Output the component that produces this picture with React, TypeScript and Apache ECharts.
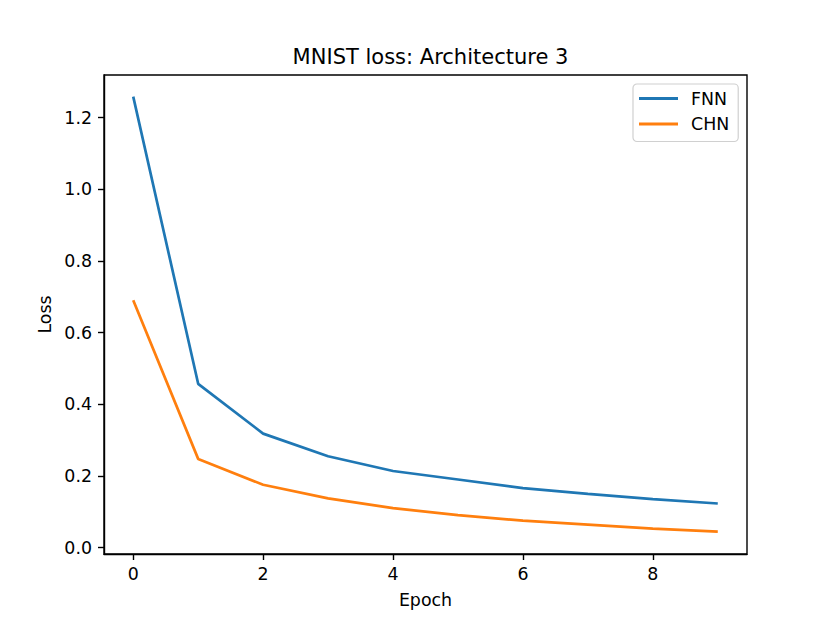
import React, { useEffect, useRef } from "react";
import * as echarts from "echarts";

const epochs = [0, 1, 2, 3, 4, 5, 6, 7, 8, 9];
const fnnLoss = [1.2586, 0.457, 0.318, 0.2547, 0.2136, 0.19, 0.166, 0.15, 0.135, 0.123];
const chnLoss = [0.6905, 0.2475, 0.1752, 0.1371, 0.11, 0.0907, 0.075, 0.064, 0.053, 0.0445];
const xTicks = [0, 2, 4, 6, 8];
const yTicks = [0, 0.2, 0.4, 0.6, 0.8, 1.0, 1.2];

const FONT = "DejaVu Sans";

export default function App() {
  const ref = useRef<HTMLDivElement>(null);
  useEffect(() => {
    if (!ref.current) return;
    const chart = echarts.init(ref.current, null, { renderer: "svg" });
    const axisCommon = {
      axisLine: { show: true, onZero: false, lineStyle: { color: "#000", width: 1.4 } },
      splitLine: { show: false },
      axisTick: { show: true, inside: false, length: 6, lineStyle: { color: "#000", width: 1.4 } },
    };
    chart.setOption({
      animation: false,
      backgroundColor: "#fff",
      title: {
        text: "MNIST loss: Architecture 3",
        left: 425.5,
        textAlign: "center",
        top: 41,
        textStyle: { fontFamily: FONT, fontSize: 21, fontWeight: "normal", color: "#000" },
      },
      legend: {
        orient: "vertical",
        left: 633,
        top: 84,
        padding: [6, 9, 9, 6],
        itemWidth: 39,
        itemHeight: 3,
        itemGap: 8.5,
        icon: "rect",
        borderColor: "#d0d0d0",
        borderWidth: 1.2,
        borderRadius: 4,
        backgroundColor: "#fff",
        textStyle: { fontFamily: FONT, fontSize: 17.4, color: "#000", padding: [0, 0, 0, 8] },
        data: ["FNN", "CHN"],
      },
      grid: {
        left: 104,
        right: 83,
        top: 75,
        bottom: 69,
        show: true,
        borderColor: "#000",
        borderWidth: 1.4,
        containLabel: false,
      },
      xAxis: {
        type: "value",
        min: -0.45,
        max: 9.45,
        ...axisCommon,
        axisTick: { ...axisCommon.axisTick, customValues: xTicks },
        axisLabel: {
          customValues: xTicks,
          margin: 11,
          fontFamily: FONT,
          fontSize: 17.4,
          color: "#000",
        },
        name: "Epoch",
        nameLocation: "middle",
        nameGap: 37,
        nameTextStyle: { fontFamily: FONT, fontSize: 17.4, color: "#000", verticalAlign: "top" },
      },
      yAxis: {
        type: "value",
        min: -0.018,
        max: 1.319,
        ...axisCommon,
        axisTick: { ...axisCommon.axisTick, customValues: yTicks },
        axisLabel: {
          customValues: yTicks,
          margin: 12,
          fontFamily: FONT,
          fontSize: 17.4,
          color: "#000",
          formatter: (v: number) => v.toFixed(1),
        },
        name: "Loss",
        nameLocation: "middle",
        nameGap: 50,
        nameTextStyle: { fontFamily: FONT, fontSize: 17.4, color: "#000" },
      },
      series: [
        {
          name: "FNN",
          type: "line",
          data: epochs.map((e, i) => [e, fnnLoss[i]]),
          showSymbol: false,
          symbol: "none",
          lineStyle: { color: "#1f77b4", width: 2.7 },
          itemStyle: { color: "#1f77b4" },
        },
        {
          name: "CHN",
          type: "line",
          data: epochs.map((e, i) => [e, chnLoss[i]]),
          showSymbol: false,
          symbol: "none",
          lineStyle: { color: "#ff7f0e", width: 2.7 },
          itemStyle: { color: "#ff7f0e" },
        },
      ],
    });
    return () => chart.dispose();
  }, []);
  return (
    <div
      ref={ref}
      style={{ position: "fixed", left: 0, top: 0, width: 830, height: 623 }}
    />
  );
}
